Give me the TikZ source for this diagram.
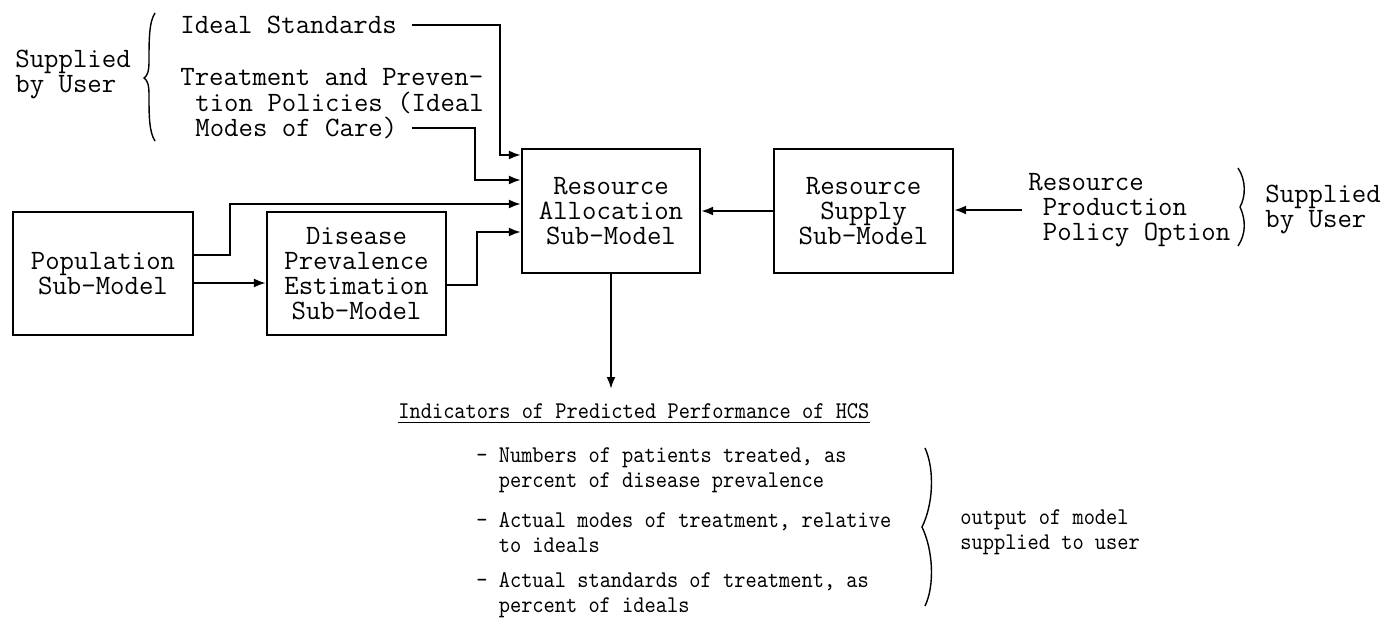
\documentclass[tikz,border=0pt]{standalone}
\usepackage{fontspec}
\newfontfamily\narrowtt{lmmono10-regular}[Extension=.otf,FakeStretch=0.89]
\usetikzlibrary{arrows.meta,calc}
\newcommand\mytopfont{\ttfamily\fontsize{14}{12.5}\selectfont}
\newcommand\mybotfont{\narrowtt\fontsize{12}{12.5}\selectfont}
\begin{document}
\begin{tikzpicture}[x=0.5pt,y=-0.5pt,
  box/.style={draw,line width=1.1pt,align=center,font=\mytopfont,inner sep=0pt},
  txt/.style={inner sep=0pt,anchor=west,align=left,font=\mytopfont},
  btxt/.style={inner sep=0pt,anchor=west,align=left,font=\mybotfont},
  arr/.style={line width=1.1pt,-{Latex[length=6pt,width=4.5pt]}},
  brc/.style={line width=0.7pt}]
\useasboundingbox (0,0) rectangle (1386,619);

% boxes
\node[box,minimum width=90pt,minimum height=61.5pt] (pop) at (103,273.5) {Population\\Sub-Model};
\node[box,minimum width=89.5pt,minimum height=61.5pt] (dis) at (356.5,273.5) {Disease\\Prevalence\\Estimation\\Sub-Model};
\node[box,minimum width=89pt,minimum height=62pt] (alloc) at (611,211) {Resource\\Allocation\\Sub-Model};
\node[box,minimum width=89.5pt,minimum height=62pt] (sup) at (863.5,211) {Resource\\Supply\\Sub-Model};

% upper-left inputs
\node[txt] (lsup) at (15,74.5) {Supplied\\by User};
\node[txt] (ideal) at (180,25) {Ideal Standards};
\node[txt] (tr1) at (180,77) {Treatment and Preven-};
\node[txt] (tr2) at (195,103) {tion Policies (Ideal};
\node[txt] (tr3) at (195,128) {Modes of Care)};

% right inputs
\node[txt] (rp) at (1028,210) {Resource\\\hphantom{x}Production\\\hphantom{x}Policy Option};
\node[txt] (rsup) at (1265,209.5) {Supplied\\by User};

% connectors
\coordinate (c1) at (500,155);
\draw[arr] ([xshift=7.5pt]ideal.east) -| (c1) -- (c1 -| alloc.west);
\coordinate (c2) at (475,180);
\draw[arr] ([xshift=7pt]tr3.east) -| (c2) -- (c2 -| alloc.west);
\coordinate (c3) at (230,204);
\coordinate (p1) at (0,255);
\draw[arr] (pop.east |- p1) -| (c3) -- (c3 -| alloc.west);
\coordinate (p2) at (0,283);
\draw[arr] (pop.east |- p2) -- (dis.west |- p2);
\coordinate (c4) at (477,232);
\coordinate (p3) at (0,285);
\draw[arr] (dis.east |- p3) -| (c4) -- (c4 -| alloc.west);
\draw[arr] (sup.west) -- (alloc.east);
\draw[arr] ([xshift=-3pt]rp.west) -- (rp.west -| sup.east);

% output
\node[btxt] (ind) at (398,411) {Indicators of Predicted Performance of HCS};
\draw[line width=0.8pt] ([yshift=-2pt]ind.base west) -- ([yshift=-2pt]ind.base east);
\coordinate (indtop) at ([yshift=7pt]ind.north);
\draw[arr] (alloc.south) -- (alloc.south |- indtop);

\node[btxt] (i1) at (476,470.5) {- Numbers of patients treated, as\\\hphantom{xx}percent of disease prevalence};
\node[btxt] (i2) at (476,532.5) {- Actual modes of treatment, relative\\\hphantom{xx}to ideals};
\node[btxt] (i3) at (476,595.5) {- Actual standards of treatment, as\\\hphantom{xx}percent of ideals};
\node[btxt] (out) at (960,532.5) {output of model\\supplied to user};

% braces
\draw[brc] (155,13) .. controls (149,22) and (149,40) .. (149,62) .. controls (149,72) and (147,76) .. (144,78) .. controls (147,80) and (149,84) .. (149,94) .. controls (149,115) and (149,132) .. (155,141);
\draw[brc] (1238,168) .. controls (1246,180) and (1246,196) .. (1240,207) .. controls (1246,220) and (1246,234) .. (1238,246);
\draw[brc] (925,448) .. controls (935,470) and (933,505) .. (922,527) .. controls (933,550) and (935,585) .. (925,606);
\end{tikzpicture}
\end{document}
